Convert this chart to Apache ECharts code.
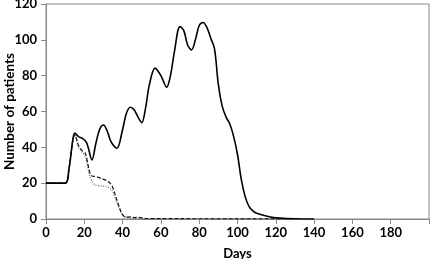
<!DOCTYPE html>
<html>
<head>
<meta charset="utf-8">
<script src="https://cdn.jsdelivr.net/npm/echarts@6/dist/echarts.min.js"></script>
<style>
  html, body { margin: 0; padding: 0; background: #fff; }
  #chart { width: 430px; height: 259px; }
</style>
</head>
<body>
<div id="chart"></div>
<script>
// Days / patient counts
let solidDays = [0, 10, 12, 14, 15, 17, 19, 21, 22, 24, 26, 28, 30, 32, 34, 37, 40, 42, 44, 46, 48, 50, 52, 54, 57, 60, 63, 65, 67, 70, 72, 74, 76, 78, 80, 82, 84, 86, 88, 90, 92, 94, 96, 98, 100, 102, 104, 106, 108, 110, 114, 118, 122, 130, 140];
let solidVals = [20, 20, 28, 44, 48, 46, 45, 43, 40, 33, 42, 50, 52.5, 49, 43, 39.5, 50, 59, 62.4, 61, 57, 53.8, 62, 75, 84.2, 80, 73.6, 80, 93, 107.4, 105, 97, 94.4, 100, 108, 109.7, 107, 101, 95, 75, 63, 57, 53, 46, 36, 22, 12.5, 7, 4.5, 3.2, 2, 1, 0.5, 0.1, 0];

let dashDays = [0, 10, 12, 14, 15, 17, 19, 20.5, 22, 23, 24, 26.5, 29, 31, 33, 34.5, 36, 37, 38.5, 39.5, 41.5, 44, 46, 48, 52, 60, 130];
let dashVals = [20, 20, 28, 44, 47, 41, 38, 36.7, 30, 25.5, 24, 23.6, 22.5, 21.8, 20.5, 18.5, 14, 10.6, 6, 3.2, 1, 1.2, 0.8, 1, 0.3, 0.2, 0];

let dotDays = [0, 10, 12, 14, 15, 17, 19, 20.5, 22, 23, 24, 25.6, 28, 31.7, 34.3, 36, 37.8, 39, 40.4, 42, 45, 50, 60, 130];
let dotVals = [20, 20, 28, 44, 47, 40, 37, 35, 28, 23.6, 21, 19, 18.5, 18, 16.2, 12, 6.9, 4, 2, 1, 0.5, 0.3, 0.1, 0];

let xTicks = [0, 20, 40, 60, 80, 100, 120, 140, 160, 180];

function pairs(days, vals) {
  return days.map(function (d, i) { return [d, vals[i]]; });
}

let font = 'Lato, "Open Sans", sans-serif';
let axisGray = '#888';

let chart = echarts.init(document.getElementById('chart'));
let option = {
  animation: false,
  grid: {
    left: 46, right: 1, top: 4, bottom: 40,
    outerBoundsMode: 'none', containLabel: false,
    show: true, borderColor: axisGray, borderWidth: 1, backgroundColor: 'transparent'
  },
  xAxis: {
    type: 'value', min: 0, max: 200, interval: 20,
    name: 'Days', nameLocation: 'middle', nameGap: 28, nameMoveOverlap: false,
    nameTextStyle: { fontFamily: font, fontWeight: 'bold', fontSize: 13, color: '#000' },
    axisLine: { show: true, lineStyle: { color: axisGray } },
    axisTick: { show: true, length: 5, lineStyle: { color: axisGray } },
    splitLine: { show: false },
    axisLabel: {
      margin: 7, fontFamily: font, fontWeight: 'bold', fontSize: 13, color: '#000',
      formatter: function (v) { return xTicks.indexOf(v) >= 0 ? String(v) : ''; }
    }
  },
  yAxis: {
    type: 'value', min: 0, max: 120, interval: 20,
    name: 'Number of patients', nameLocation: 'middle', nameGap: 29, nameMoveOverlap: false,
    nameTextStyle: { fontFamily: font, fontWeight: 'bold', fontSize: 13.5, color: '#000' },
    axisLine: { show: true, lineStyle: { color: axisGray } },
    axisTick: { show: true, length: 5, lineStyle: { color: axisGray } },
    splitLine: { show: false },
    axisLabel: { margin: 9, fontFamily: font, fontWeight: 'bold', fontSize: 13, color: '#000' }
  },
  series: [
    {
      name: 'dotted', type: 'line', smooth: 0.3, symbol: 'none',
      data: pairs(dotDays, dotVals),
      lineStyle: { color: '#666', width: 1.2, type: [1, 1.5] }
    },
    {
      name: 'dashed', type: 'line', smooth: 0.3, symbol: 'none',
      data: pairs(dashDays, dashVals),
      lineStyle: { color: '#111', width: 1.2, type: [4, 2] }
    },
    {
      name: 'solid', type: 'line', smooth: 0.35, symbol: 'none',
      data: pairs(solidDays, solidVals),
      lineStyle: { color: '#000', width: 1.6 }
    }
  ]
};
chart.setOption(option);
</script>
</body>
</html>
